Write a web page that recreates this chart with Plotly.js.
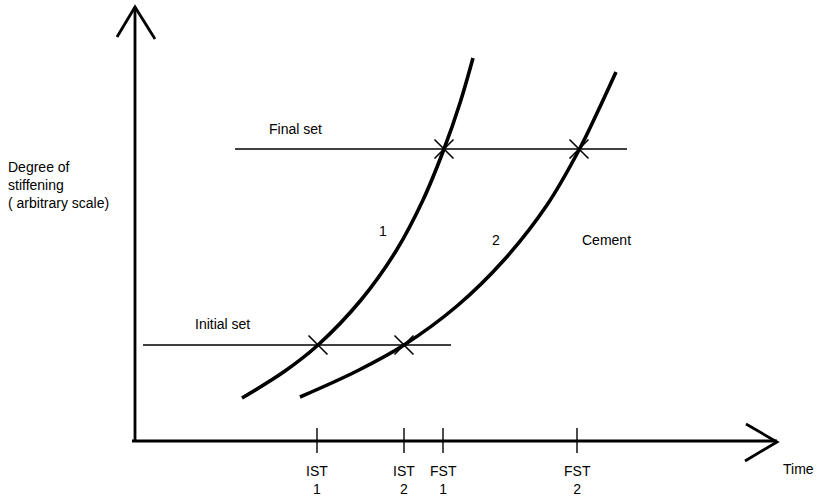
<!DOCTYPE html>
<html>
<head>
<meta charset="utf-8">
<script src="https://cdn.plot.ly/plotly-3.0.1.min.js"></script>
<style>html,body{margin:0;padding:0;background:#fff;}#chart{width:818px;height:496px;}</style>
</head>
<body>
<div id="chart"></div>
<script>
// Schematic data (arbitrary units: time along x, degree of stiffening along y)
const curve1X = [10.7, 15.0, 18.3, 22.6, 26.1, 28.8, 30.9, 32.5, 33.8];
const curve1Y = [4.3, 7.0, 9.6, 14.1, 19.0, 24.1, 29.2, 33.8, 38.3];
const curve2X = [16.5, 22.2, 26.9, 32.2, 36.9, 41.2, 44.4, 46.3, 48.1];
const curve2Y = [4.4, 7.0, 9.6, 13.5, 18.1, 23.6, 29.1, 33.0, 36.9];

const initialSetLevel = 9.6;
const finalSetLevel = 29.2;
const initialSetSpan = [0.8, 31.6];
const finalSetSpan = [10.0, 49.2];

const tickTimes = [18.2, 26.9, 30.8, 44.2];
const tickLabels = ["IST<br>1", "IST<br>2", "FST<br>1", "FST<br>2"];
const crossX = [18.3, 26.9, 30.9, 44.4];
const crossY = [initialSetLevel, initialSetLevel, finalSetLevel, finalSetLevel];

const yLabelLines = ["Degree of", "stiffening", "( arbitrary scale)"];

const yAxisTop = 43.4;
const xAxisEnd = 64.2;

const black = "#000";
const traces = [];
function line(xs, ys, w, shape) {
  traces.push({x: xs, y: ys, mode: "lines", hoverinfo: "skip",
    line: {color: black, width: w, shape: shape || "linear", smoothing: 1}});
}
// axes
line([0, 0], [-0.1, yAxisTop], 2.8);
line([-1.8, 0, 2.0], [40.4, yAxisTop, 40.2], 2.8);
line([-0.3, xAxisEnd], [0, 0], 2.8);
line([61.1, xAxisEnd, 61.0], [1.7, -0.1, -2.0], 2.8);
// ticks on time axis
tickTimes.forEach(t => line([t, t], [1.3, -1.2], 1.4));
// set level lines
line(initialSetSpan, [initialSetLevel, initialSetLevel], 1.4);
line(finalSetSpan, [finalSetLevel, finalSetLevel], 1.4);
// stiffening curves
line(curve1X, curve1Y, 3.6, "spline");
line(curve2X, curve2Y, 3.6, "spline");
// crosses
traces.push({x: crossX, y: crossY, mode: "markers", hoverinfo: "skip",
  marker: {symbol: "x-thin", size: 19, line: {color: black, width: 1.6}}});

const fnt = {family: "Liberation Sans, Arial, sans-serif", size: 14, color: black};
const annotations = [];
function txt(x, y, t, xa, extra) {
  annotations.push(Object.assign({x: x, y: y, xref: "x", yref: "y", text: t, showarrow: false,
    xanchor: xa || "center", yanchor: "middle", font: fnt}, extra || {}));
}
tickTimes.forEach((t, i) => txt(t, -3.9, tickLabels[i], "center", {align: "center"}));
txt(66.3, -2.8, "Time");
txt(16.0, 31.2, "Final set");
txt(8.7, 11.7, "Initial set");
txt(24.8, 21.0, "1");
txt(36.1, 20.1, "2");
txt(47.1, 20.1, "Cement");
yLabelLines.forEach((s, i) => txt(-12.9, 27.4 - 1.8 * i, s, "left"));

const layout = {
  width: 818, height: 496,
  margin: {l: 0, r: 0, t: 0, b: 0},
  paper_bgcolor: "#fff", plot_bgcolor: "#fff",
  showlegend: false,
  xaxis: {range: [-13.5, 68.3], visible: false, fixedrange: true},
  yaxis: {range: [-5.5, 44.1], visible: false, fixedrange: true},
  annotations: annotations
};
Plotly.newPlot("chart", traces, layout, {displayModeBar: false, staticPlot: true});
</script>
</body>
</html>
